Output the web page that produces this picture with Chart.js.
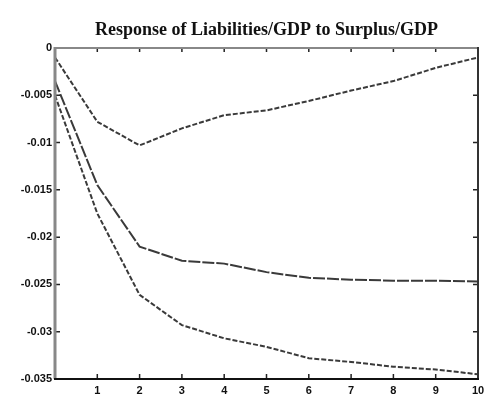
<!DOCTYPE html>
<html>
<head>
<meta charset="utf-8">
<script src="https://cdn.jsdelivr.net/npm/chart.js@4.4.0/dist/chart.umd.min.js"></script>
<style>
  html, body { margin: 0; padding: 0; background: #fff; }
  #wrap { width: 490px; height: 403px; }
</style>
</head>
<body>
<div id="wrap"><canvas id="irf"></canvas></div>
<script>
// horizonte (periodos) e as tres curvas da resposta
const steps = [0, 1, 2, 3, 4, 5, 6, 7, 8, 9, 10];
const upperBand = [-0.001, -0.0078, -0.0103, -0.0085, -0.0071, -0.0066, -0.0056, -0.0045, -0.0035, -0.0021, -0.001];
const response = [-0.0035, -0.0145, -0.021, -0.0225, -0.0228, -0.0237, -0.0243, -0.0245, -0.0246, -0.0246, -0.0247];
const lowerBand = [-0.005, -0.0175, -0.0261, -0.0293, -0.0307, -0.0316, -0.0328, -0.0332, -0.0337, -0.034, -0.0345];
const yTicks = [0, -0.005, -0.01, -0.015, -0.02, -0.025, -0.03, -0.035];
const xTicks = [1, 2, 3, 4, 5, 6, 7, 8, 9, 10];
const chartTitle = 'Response of Liabilities/GDP to Surplus/GDP';

function pontos(serie) {
    return steps.map((s, i) => ({ x: s, y: serie[i] }));
}

// moldura, marcas internas e titulo
const moldura = {
    id: 'moldura',
    afterDraw(chart) {
        const ctx = chart.ctx;
        const a = chart.chartArea;
        const xs = chart.scales.x, ys = chart.scales.y;
        ctx.save();
        // marcas
        ctx.strokeStyle = '#222';
        ctx.lineWidth = 1.5;
        xTicks.forEach(v => {
            const px = xs.getPixelForValue(v);
            ctx.beginPath();
            ctx.moveTo(px, a.bottom); ctx.lineTo(px, a.bottom - 5);
            ctx.moveTo(px, a.top); ctx.lineTo(px, a.top + 4);
            ctx.stroke();
        });
        yTicks.forEach(v => {
            const py = ys.getPixelForValue(v);
            ctx.beginPath();
            ctx.moveTo(a.left, py); ctx.lineTo(a.left + 5, py);
            ctx.moveTo(a.right, py); ctx.lineTo(a.right - 5, py);
            ctx.stroke();
        });
        // bordas
        ctx.lineWidth = 2;
        ctx.strokeStyle = '#888';
        ctx.beginPath(); ctx.moveTo(a.left, a.top); ctx.lineTo(a.right, a.top); ctx.stroke();
        ctx.lineWidth = 3;
        ctx.beginPath(); ctx.moveTo(a.left, a.top - 1); ctx.lineTo(a.left, a.bottom); ctx.stroke();
        ctx.lineWidth = 2;
        ctx.strokeStyle = '#333';
        ctx.beginPath(); ctx.moveTo(a.right, a.top - 1); ctx.lineTo(a.right, a.bottom); ctx.stroke();
        ctx.strokeStyle = '#111';
        ctx.beginPath(); ctx.moveTo(a.left - 1, a.bottom); ctx.lineTo(a.right + 1, a.bottom); ctx.stroke();
        // titulo
        ctx.fillStyle = '#111';
        ctx.font = 'bold 18px "Liberation Serif", "DejaVu Serif", serif';
        ctx.textAlign = 'center';
        ctx.textBaseline = 'middle';
        ctx.fillText(chartTitle, (a.left + a.right) / 2, 30);
        ctx.restore();
    }
};

const estiloLinha = {
    borderColor: '#3a3a3a',
    borderWidth: 2,
    pointRadius: 0,
    tension: 0,
    fill: false
};

const fonteEixo = { family: '"Liberation Sans", Arial, sans-serif', size: 11, weight: 'bold' };

var ctx = document.getElementById('irf').getContext('2d');
const grafico = new Chart(ctx, {
    type: 'line',
    data: {
        datasets: [
            Object.assign({ label: 'upper', data: pontos(upperBand), borderDash: [5, 2] }, estiloLinha),
            Object.assign({ label: 'response', data: pontos(response), borderDash: [12, 2] }, estiloLinha),
            Object.assign({ label: 'lower', data: pontos(lowerBand), borderDash: [5, 2] }, estiloLinha)
        ]
    },
    options: {
        responsive: true,
        maintainAspectRatio: false,
        animation: false,
        layout: { padding: { top: 48, right: 12, left: 0, bottom: 0 } },
        plugins: {
            legend: { display: false },
            title: { display: false },
            tooltip: { enabled: false }
        },
        scales: {
            x: {
                type: 'linear',
                min: 0,
                max: 10,
                afterFit(scale) { scale.height = 24; },
                afterBuildTicks(scale) { scale.ticks = steps.map(v => ({ value: v })); },
                grid: { display: false, drawTicks: false },
                border: { display: false },
                ticks: {
                    padding: 5,
                    color: '#111',
                    font: fonteEixo,
                    maxRotation: 0,
                    callback: v => (v === 0 ? '' : String(v))
                }
            },
            y: {
                min: -0.035,
                max: 0,
                afterFit(scale) { scale.width = 55; },
                afterBuildTicks(scale) { scale.ticks = yTicks.map(v => ({ value: v })); },
                grid: { display: false, drawTicks: false },
                border: { display: false },
                ticks: {
                    padding: 3,
                    color: '#111',
                    font: fonteEixo,
                    callback: v => String(v)
                }
            }
        }
    },
    plugins: [moldura]
});
</script>
</body>
</html>
